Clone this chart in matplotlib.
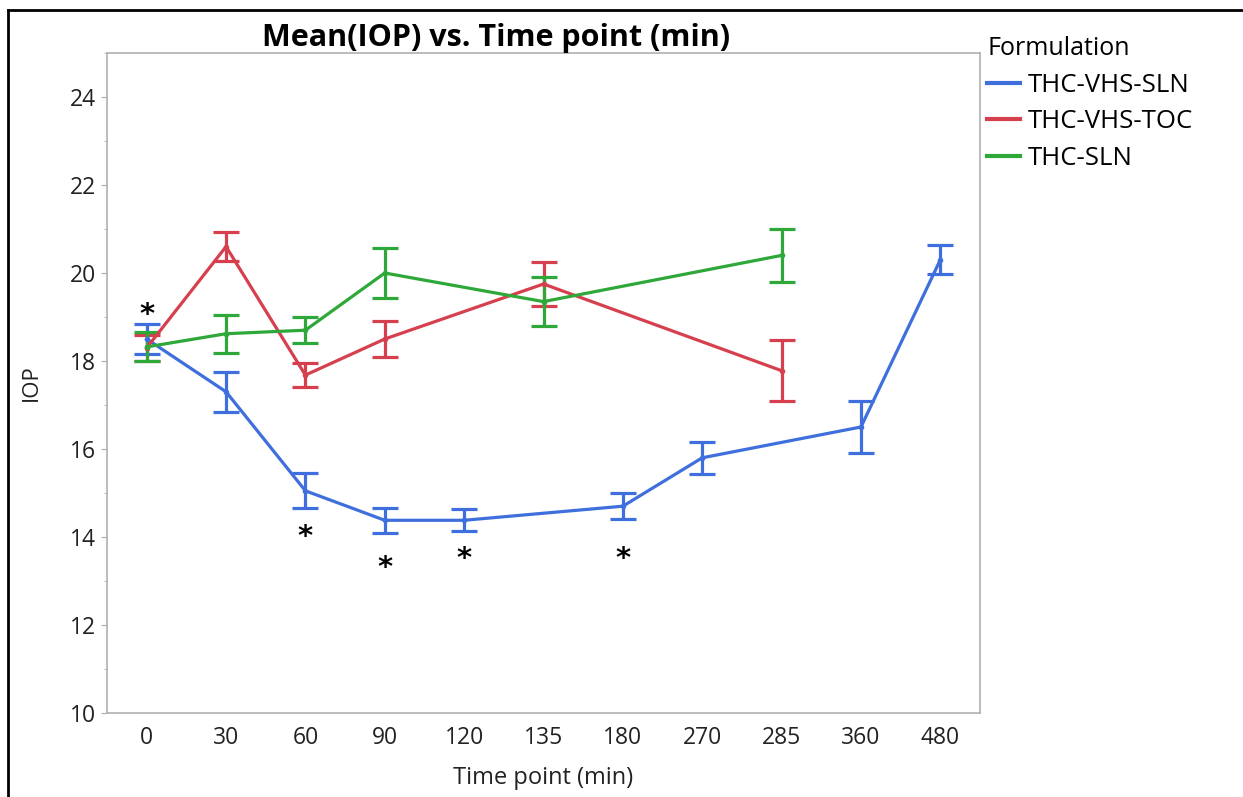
import matplotlib
matplotlib.use("Agg")
import matplotlib.pyplot as plt
from matplotlib.lines import Line2D
from matplotlib.ticker import MultipleLocator

plt.rcParams['font.family'] = ['Open Sans', 'DejaVu Sans']

time_labels = ["0", "30", "60", "90", "120", "135", "180", "270", "285", "360", "480"]

# THC-VHS-SLN (all time points)
sln_vhs_times = ["0", "30", "60", "90", "120", "180", "270", "360", "480"]
sln_vhs_mean = [18.5, 17.3, 15.05, 14.38, 14.38, 14.7, 15.8, 16.5, 20.3]
sln_vhs_err = [0.33, 0.45, 0.40, 0.28, 0.25, 0.30, 0.36, 0.60, 0.33]

# THC-VHS-TOC
toc_times = ["0", "30", "60", "90", "135", "285"]
toc_mean = [18.3, 20.6, 17.68, 18.5, 19.75, 17.78]
toc_err = [0.30, 0.33, 0.27, 0.42, 0.50, 0.69]

# THC-SLN
sln_times = ["0", "30", "60", "90", "135", "285"]
sln_mean = [18.32, 18.62, 18.7, 20.0, 19.35, 20.4]
sln_err = [0.33, 0.43, 0.30, 0.57, 0.55, 0.60]

# significance markers
star_times = ["0", "60", "90", "120", "180"]
star_y = [19.05, 14.0, 13.3, 13.5, 13.5]

colors = {"THC-VHS-SLN": "#3e6fdc", "THC-VHS-TOC": "#d6404e", "THC-SLN": "#2fa83a"}

fig = plt.figure(figsize=(12.43, 7.97), dpi=100)
ax = fig.add_axes([107/1243, 1-713/797, (980-107)/1243, (713-53)/797])

pos = {t: i for i, t in enumerate(time_labels)}

series = [
    ("THC-VHS-SLN", sln_vhs_times, sln_vhs_mean, sln_vhs_err),
    ("THC-VHS-TOC", toc_times, toc_mean, toc_err),
    ("THC-SLN", sln_times, sln_mean, sln_err),
]
for name, times, mean, err in series:
    xs = [pos[t] for t in times]
    ax.errorbar(xs, mean, yerr=err, color=colors[name], lw=2.3, elinewidth=2.3,
                capsize=9.5, capthick=2.3, marker='o', ms=3, label=name, zorder=3)

for t, y in zip(star_times, star_y):
    ax.text(pos[t], y, "*", fontsize=21, fontweight='bold', ha='center', va='center',
            color='black', family='DejaVu Sans')

ax.set_xlim(-0.5, 10.5)
ax.set_ylim(10, 25)
ax.set_xticks(range(len(time_labels)))
ax.set_xticklabels(time_labels)
ax.set_yticks([10, 12, 14, 16, 18, 20, 22, 24])
ax.yaxis.set_minor_locator(MultipleLocator(1))
ax.tick_params(axis='x', length=0, labelsize=16.5, colors='#222222', pad=9)
ax.tick_params(axis='y', which='major', length=4, labelsize=16.5, color='#aaaaaa',
               labelcolor='#222222', pad=4)
ax.tick_params(axis='y', which='minor', length=2.5, color='#aaaaaa')
for s in ax.spines.values():
    s.set_color('#b0b0b0')
    s.set_linewidth(1.2)

ax.set_xlabel("Time point (min)", fontsize=17, color='#222222', labelpad=12)
ax.set_ylabel("IOP", fontsize=16, color='#222222', labelpad=20)
fig.text(496/1243, 1-38/797, "Mean(IOP) vs. Time point (min)", fontsize=22,
         fontweight='bold', ha='center', va='center')

handles = [Line2D([0], [0], color=colors[n], lw=3) for n in colors]
leg = fig.legend(handles, list(colors.keys()), title="Formulation", loc='upper left',
                 bbox_to_anchor=(987/1243, 1-36/797), frameon=False, fontsize=18.5,
                 title_fontsize=18, handlelength=1.3, handletextpad=0.3,
                 labelspacing=0.45, borderpad=0, borderaxespad=0)
leg._legend_box.align = "left"

# figure frame lines (left and top)
fig.add_artist(Line2D([8/1243, 8/1243], [0, 1-10/797], color='black', lw=2, transform=fig.transFigure))
fig.add_artist(Line2D([8/1243, 1], [1-10/797, 1-10/797], color='black', lw=2, transform=fig.transFigure))

fig.savefig("out.png", dpi=100)
